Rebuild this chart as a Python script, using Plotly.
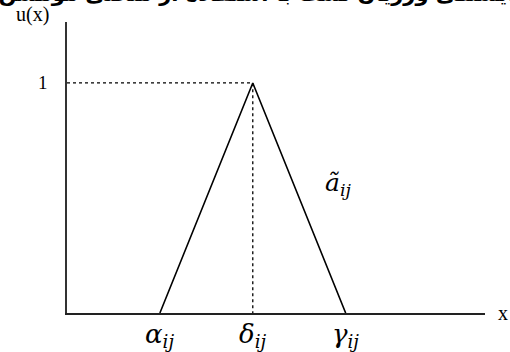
import plotly.graph_objects as go

# triangular fuzzy number (alpha, delta, gamma)
tri_x = [2, 4, 6]
tri_u = [0, 1, 0]
x_ticks = [2, 4, 6]
x_labels = ["<i>α</i><sub><i>ij</i></sub>", "<i>δ</i><sub><i>ij</i></sub>", "<i>γ</i><sub><i>ij</i></sub>"]
peak_x = 4
peak_u = 1
title_fa = "ران شایستگی ورزیان تست با استفاده از منحنی مومشن (۲۱"

serif = "Liberation Serif"
greek = "DejaVu Serif"

fig = go.Figure()

# triangle
fig.add_trace(go.Scatter(x=tri_x, y=tri_u, mode="lines",
                         line=dict(color="black", width=1.6)))
# dotted guide lines to the peak
fig.add_trace(go.Scatter(x=[0, peak_x, peak_x], y=[peak_u, peak_u, 0], mode="lines",
                         line=dict(color="black", width=1.3, dash="dot")))

fig.update_layout(
    width=510, height=352,
    margin=dict(l=67, r=25, t=22, b=39),
    paper_bgcolor="white", plot_bgcolor="white",
    showlegend=False,
    xaxis=dict(range=[0, 9], showgrid=False, zeroline=False, showline=True,
               linecolor="#222", linewidth=1.5, showticklabels=False, ticks=""),
    yaxis=dict(range=[0, 1.265], showgrid=False, zeroline=False, showline=True,
               linecolor="#333", linewidth=2.2, showticklabels=False, ticks=""),
)

for xv, lab in zip(x_ticks, x_labels):
    fig.add_annotation(x=xv, y=0, yshift=-22, text=lab, showarrow=False,
                       font=dict(family=greek, size=26, color="black"),
                       xanchor="center", yanchor="middle")

fig.add_annotation(xref="paper", x=0, xshift=-24, y=peak_u, text="1", showarrow=False,
                   font=dict(family=serif, size=19, color="black"),
                   xanchor="center", yanchor="middle")

fig.add_annotation(x=5.85, y=0.56, text="<i>ã</i><sub><i>ij</i></sub>", showarrow=False,
                   font=dict(family=greek, size=25, color="black"),
                   xanchor="center", yanchor="middle")

fig.add_annotation(xref="paper", yref="paper", x=0, xshift=-35, y=1, yshift=8,
                   text="u(x)", showarrow=False,
                   font=dict(family=serif, size=20, color="black"),
                   xanchor="center", yanchor="middle")

fig.add_annotation(xref="paper", yref="paper", x=1, xshift=18, y=0, text="x",
                   showarrow=False, font=dict(family=serif, size=20, color="black"),
                   xanchor="center", yanchor="middle")

fig.add_annotation(xref="paper", yref="paper", x=0.5, xshift=-8, y=1, yshift=29,
                   text="<b>" + title_fa + "</b>", showarrow=False,
                   font=dict(family="DejaVu Sans", size=21, color="black"),
                   xanchor="center", yanchor="middle")

fig.write_html("out.html", config={"displayModeBar": False},
               post_script="document.body.style.margin='0';")
